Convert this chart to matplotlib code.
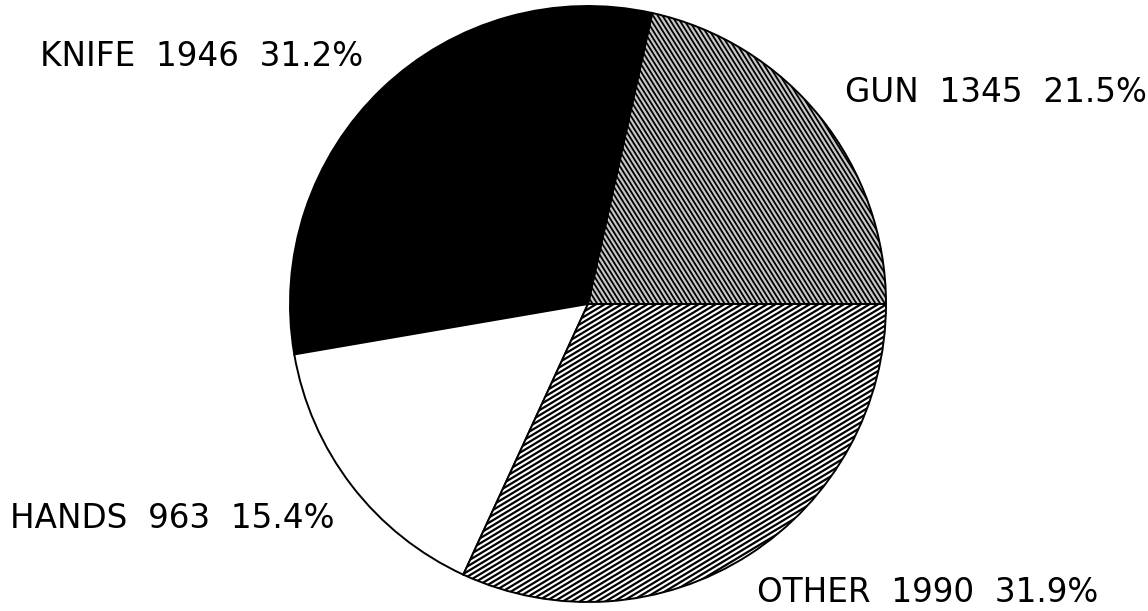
import numpy as np
import matplotlib
matplotlib.use("Agg")
import matplotlib.pyplot as plt
from matplotlib.collections import LineCollection

# data
labels = ["GUN", "KNIFE", "HANDS", "OTHER"]
counts = [1345, 1946, 963, 1990]
percents = [21.5, 31.2, 15.4, 31.9]

W, H = 1148, 611
fig = plt.figure(figsize=(W / 100, H / 100), dpi=100)
ax = fig.add_axes([0, 0, 1, 1])

cx, cy, r = 588, H - 304, 298
faces = ["#c8c8c8", "black", "white", "white"]
wedges, _ = ax.pie(counts, startangle=0, counterclock=True, center=(cx, cy),
                   radius=r, colors=faces,
                   wedgeprops=dict(edgecolor="black", linewidth=1.4))


def hatch(wedge, angle_deg, spacing, lw):
    # dense stripes clipped to the wedge
    a = np.deg2rad(angle_deg)
    d = np.array([np.cos(a), np.sin(a)])
    n = np.array([-d[1], d[0]])
    L = 2 * r + 20
    segs = []
    for k in np.arange(-L, L, spacing):
        p = np.array([cx, cy]) + n * k
        segs.append([p - d * L, p + d * L])
    lc = LineCollection(segs, colors="black", linewidths=lw)
    lc.set_clip_path(wedge)
    ax.add_collection(lc)


hatch(wedges[0], -58, 4.0, 1.3)   # GUN: steep \\\ grey
hatch(wedges[3], 31, 4.4, 1.6)    # OTHER: shallow ///


def lab(i):
    return f"{labels[i]}  {counts[i]}  {percents[i]}%"


fs = 23.5
ax.text(40, H - 66, lab(1), fontsize=fs, ha="left", va="baseline")
ax.text(845, H - 102, lab(0), fontsize=fs, ha="left", va="baseline")
ax.text(10, H - 528, lab(2), fontsize=fs, ha="left", va="baseline")
ax.text(1098, H - 602, lab(3), fontsize=fs, ha="right", va="baseline")

ax.set_xlim(0, W)
ax.set_ylim(0, H)
ax.set_aspect("equal")
ax.axis("off")

fig.savefig("out.png", dpi=100, facecolor="white")
